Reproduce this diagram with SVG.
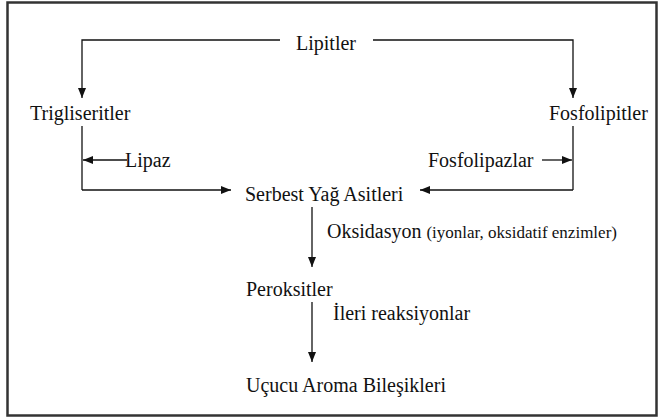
<svg xmlns="http://www.w3.org/2000/svg" width="661" height="419" viewBox="0 0 661 419">
  <defs>
    <marker id="head" viewBox="0 0 10 8" refX="10" refY="4" markerWidth="10" markerHeight="8" markerUnits="userSpaceOnUse" orient="auto">
      <path d="M0,0 L10,4 L0,8 Z" fill="#111"/>
    </marker>
    <style>
      .t { font-family: "Liberation Serif", "Times New Roman", serif; font-size: 20px; fill: #111; }
      .s { font-size: 17px; }
      .ln { fill: none; stroke: #111; stroke-width: 1.3; }
      .arr { fill: none; stroke: #111; stroke-width: 1.3; marker-end: url(#head); }
    </style>
  </defs>
  <rect width="661" height="419" fill="#fff"/>
  <!-- outer frame -->
  <rect x="7.5" y="2.5" width="649" height="413" fill="none" stroke="#333" stroke-width="2.5"/>

  <g id="lipitler"><text class="t" x="296" y="50">Lipitler</text></g>
  <g id="trigliseritler"><text class="t" x="30" y="120">Trigliseritler</text></g>
  <g id="fosfolipitler"><text class="t" x="549" y="120">Fosfolipitler</text></g>
  <g id="lipaz"><text class="t" x="125" y="167">Lipaz</text></g>
  <g id="fosfolipazlar"><text class="t" x="428" y="167">Fosfolipazlar</text></g>
  <g id="serbest"><text class="t" x="245" y="201">Serbest Yağ Asitleri</text></g>
  <g id="oksidasyon"><text class="t" x="327" y="238">Oksidasyon <tspan class="s">(iyonlar, oksidatif enzimler)</tspan></text></g>
  <g id="peroksitler"><text class="t" x="246" y="296">Peroksitler</text></g>
  <g id="ileri"><text class="t" x="333" y="320">İleri reaksiyonlar</text></g>
  <g id="ucucu"><text class="t" x="246" y="392">Uçucu Aroma Bileşikleri</text></g>

  <g id="connectors">
    <path class="arr" d="M280,40 H82 V98"/>
    <path class="arr" d="M373,40 H573 V98"/>
    <path class="ln" d="M82,126 V190"/>
    <path class="arr" d="M82,190 H231"/>
    <path class="arr" d="M127,160 H83"/>
    <path class="ln" d="M573,126 V190"/>
    <path class="arr" d="M573,190 H420"/>
    <path class="arr" d="M542,160 H572"/>
    <path class="arr" d="M312,207 V267"/>
    <path class="arr" d="M312,302 V362"/>
  </g>
</svg>
